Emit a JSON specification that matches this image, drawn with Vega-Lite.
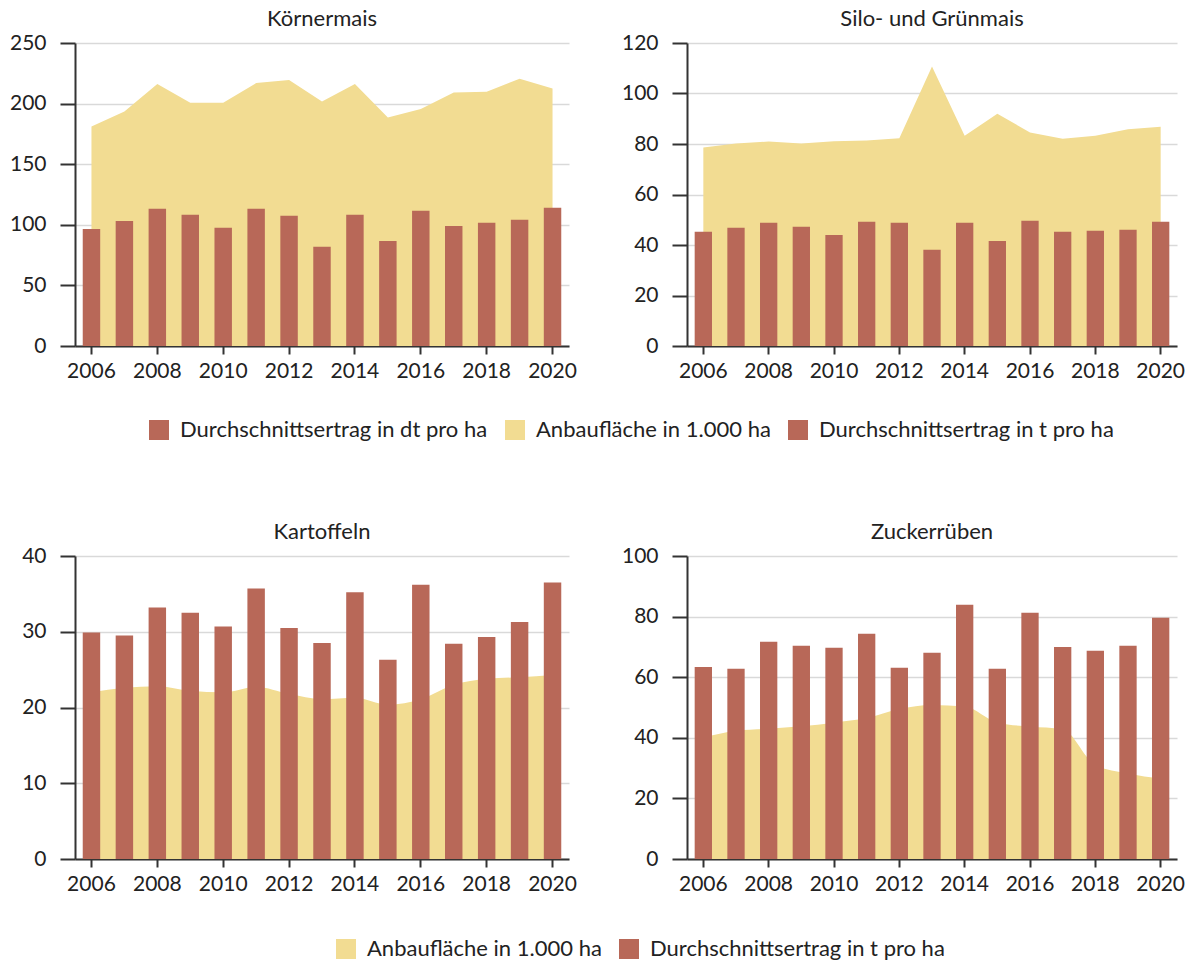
{
  "$schema": "https://vega.github.io/schema/vega-lite/v6.json",
  "background": "white",
  "padding": {"left": 9, "top": 8, "right": 2, "bottom": 0},
  "config": {
    "font": "Lato",
    "view": {"stroke": null},
    "axis": {"labelFont": "Lato", "labelFontSize": 21, "labelColor": "#222222", "domainColor": "#333333", "tickColor": "#333333", "gridColor": "#d9d9d9", "gridWidth": 1.5, "domainWidth": 2, "tickWidth": 2},
    "title": {"font": "Lato", "fontSize": 22, "fontWeight": "normal", "color": "#222222", "offset": 1},
    "legend": {"labelFont": "Lato", "labelFontSize": 22, "labelColor": "#222222", "labelLimit": 400, "symbolType": "square", "symbolSize": 400, "symbolStrokeWidth": 0, "direction": "horizontal", "title": null, "columnPadding": 16, "labelOffset": 10}
  },
  "datasets": {
    "d": [
      {"crop": "Körnermais", "year": 2006, "flaeche": 181.2, "ertrag": 96.6},
      {"crop": "Körnermais", "year": 2007, "flaeche": 193.5, "ertrag": 103.2},
      {"crop": "Körnermais", "year": 2008, "flaeche": 216.1, "ertrag": 113.2},
      {"crop": "Körnermais", "year": 2009, "flaeche": 200.7, "ertrag": 108.2},
      {"crop": "Körnermais", "year": 2010, "flaeche": 200.7, "ertrag": 97.5},
      {"crop": "Körnermais", "year": 2011, "flaeche": 216.9, "ertrag": 113.2},
      {"crop": "Körnermais", "year": 2012, "flaeche": 219.4, "ertrag": 107.4},
      {"crop": "Körnermais", "year": 2013, "flaeche": 201.8, "ertrag": 81.8},
      {"crop": "Körnermais", "year": 2014, "flaeche": 216.1, "ertrag": 108.2},
      {"crop": "Körnermais", "year": 2015, "flaeche": 188.6, "ertrag": 86.7},
      {"crop": "Körnermais", "year": 2016, "flaeche": 195.5, "ertrag": 111.5},
      {"crop": "Körnermais", "year": 2017, "flaeche": 209.2, "ertrag": 99.1},
      {"crop": "Körnermais", "year": 2018, "flaeche": 209.8, "ertrag": 101.6},
      {"crop": "Körnermais", "year": 2019, "flaeche": 220.5, "ertrag": 104.1},
      {"crop": "Körnermais", "year": 2020, "flaeche": 212.5, "ertrag": 114.0},
      {"crop": "Silo", "year": 2006, "flaeche": 78.6, "ertrag": 45.2},
      {"crop": "Silo", "year": 2007, "flaeche": 80.2, "ertrag": 46.8},
      {"crop": "Silo", "year": 2008, "flaeche": 81.0, "ertrag": 48.8},
      {"crop": "Silo", "year": 2009, "flaeche": 80.2, "ertrag": 47.2},
      {"crop": "Silo", "year": 2010, "flaeche": 81.1, "ertrag": 44.0},
      {"crop": "Silo", "year": 2011, "flaeche": 81.4, "ertrag": 49.2},
      {"crop": "Silo", "year": 2012, "flaeche": 82.3, "ertrag": 48.8},
      {"crop": "Silo", "year": 2013, "flaeche": 110.7, "ertrag": 38.1},
      {"crop": "Silo", "year": 2014, "flaeche": 83.3, "ertrag": 48.8},
      {"crop": "Silo", "year": 2015, "flaeche": 92.0, "ertrag": 41.6},
      {"crop": "Silo", "year": 2016, "flaeche": 84.6, "ertrag": 49.6},
      {"crop": "Silo", "year": 2017, "flaeche": 82.1, "ertrag": 45.2},
      {"crop": "Silo", "year": 2018, "flaeche": 83.3, "ertrag": 45.6},
      {"crop": "Silo", "year": 2019, "flaeche": 85.8, "ertrag": 46.0},
      {"crop": "Silo", "year": 2020, "flaeche": 86.8, "ertrag": 49.2},
      {"crop": "Kartoffeln", "year": 2006, "flaeche": 22.0, "ertrag": 29.9},
      {"crop": "Kartoffeln", "year": 2007, "flaeche": 22.6, "ertrag": 29.5},
      {"crop": "Kartoffeln", "year": 2008, "flaeche": 22.8, "ertrag": 33.2},
      {"crop": "Kartoffeln", "year": 2009, "flaeche": 22.2, "ertrag": 32.5},
      {"crop": "Kartoffeln", "year": 2010, "flaeche": 22.0, "ertrag": 30.7},
      {"crop": "Kartoffeln", "year": 2011, "flaeche": 22.7, "ertrag": 35.7},
      {"crop": "Kartoffeln", "year": 2012, "flaeche": 21.8, "ertrag": 30.5},
      {"crop": "Kartoffeln", "year": 2013, "flaeche": 21.1, "ertrag": 28.5},
      {"crop": "Kartoffeln", "year": 2014, "flaeche": 21.3, "ertrag": 35.2},
      {"crop": "Kartoffeln", "year": 2015, "flaeche": 20.4, "ertrag": 26.3},
      {"crop": "Kartoffeln", "year": 2016, "flaeche": 21.1, "ertrag": 36.2},
      {"crop": "Kartoffeln", "year": 2017, "flaeche": 23.0, "ertrag": 28.4},
      {"crop": "Kartoffeln", "year": 2018, "flaeche": 23.8, "ertrag": 29.3},
      {"crop": "Kartoffeln", "year": 2019, "flaeche": 24.0, "ertrag": 31.3},
      {"crop": "Kartoffeln", "year": 2020, "flaeche": 24.3, "ertrag": 36.5},
      {"crop": "Zucker", "year": 2006, "flaeche": 40.1, "ertrag": 63.4},
      {"crop": "Zucker", "year": 2007, "flaeche": 42.3, "ertrag": 62.8},
      {"crop": "Zucker", "year": 2008, "flaeche": 43.0, "ertrag": 71.7},
      {"crop": "Zucker", "year": 2009, "flaeche": 43.8, "ertrag": 70.4},
      {"crop": "Zucker", "year": 2010, "flaeche": 45.0, "ertrag": 69.7},
      {"crop": "Zucker", "year": 2011, "flaeche": 46.5, "ertrag": 74.3},
      {"crop": "Zucker", "year": 2012, "flaeche": 49.5, "ertrag": 63.1},
      {"crop": "Zucker", "year": 2013, "flaeche": 50.8, "ertrag": 68.1},
      {"crop": "Zucker", "year": 2014, "flaeche": 50.3, "ertrag": 83.9},
      {"crop": "Zucker", "year": 2015, "flaeche": 45.0, "ertrag": 62.8},
      {"crop": "Zucker", "year": 2016, "flaeche": 43.7, "ertrag": 81.3},
      {"crop": "Zucker", "year": 2017, "flaeche": 42.8, "ertrag": 70.0},
      {"crop": "Zucker", "year": 2018, "flaeche": 31.0, "ertrag": 68.7},
      {"crop": "Zucker", "year": 2019, "flaeche": 28.2, "ertrag": 70.4},
      {"crop": "Zucker", "year": 2020, "flaeche": 26.5, "ertrag": 79.6}
    ]
  },
  "resolve": {"scale": {"color": "independent"}, "legend": {"color": "independent"}},
  "spacing": 80,
  "vconcat": [
    {
      "spacing": 44,
      "hconcat": [
        {
          "title": "Körnermais",
          "width": 494, "height": 303,
          "data": {"name": "d"},
          "transform": [{"filter": "datum.crop === 'Körnermais'"}],
          "encoding": {
            "x": {"field": "year", "type": "ordinal", "scale": {"paddingInner": 0.47, "paddingOuter": 0.235}, "axis": {"title": null, "values": [2006, 2008, 2010, 2012, 2014, 2016, 2018, 2020], "labelAngle": 0, "tickSize": 8, "labelPadding": 6, "grid": false}}
          },
          "layer": [
            {"mark": {"type": "area", "interpolate": "linear"},
             "encoding": {
               "y": {"field": "flaeche", "type": "quantitative", "scale": {"domain": [0, 250], "nice": false}, "axis": {"title": null, "values": [0, 50, 100, 150, 200, 250], "tickSize": 15, "labelPadding": 14, "grid": true}},
               "color": {"datum": "Anbaufläche in 1.000 ha", "type": "nominal", "scale": {"domain": ["Durchschnittsertrag in dt pro ha", "Anbaufläche in 1.000 ha", "Durchschnittsertrag in t pro ha"], "range": ["#B86858", "#F2DC92", "#B86858"]}, "legend": {"orient": "none", "legendX": 73, "legendY": 376}}
             }},
            {"mark": {"type": "bar"},
             "encoding": {
               "y": {"field": "ertrag", "type": "quantitative"},
               "color": {"datum": "Durchschnittsertrag in dt pro ha", "type": "nominal"}
             }}
          ]
        },
        {
          "title": "Silo- und Grünmais",
          "width": 490, "height": 303,
          "data": {"name": "d"},
          "transform": [{"filter": "datum.crop === 'Silo'"}],
          "encoding": {
            "x": {"field": "year", "type": "ordinal", "scale": {"paddingInner": 0.47, "paddingOuter": 0.235}, "axis": {"title": null, "values": [2006, 2008, 2010, 2012, 2014, 2016, 2018, 2020], "labelAngle": 0, "tickSize": 8, "labelPadding": 6, "grid": false}}
          },
          "layer": [
            {"mark": {"type": "area", "interpolate": "linear"},
             "encoding": {
               "y": {"field": "flaeche", "type": "quantitative", "scale": {"domain": [0, 120], "nice": false}, "axis": {"title": null, "values": [0, 20, 40, 60, 80, 100, 120], "tickSize": 15, "labelPadding": 14, "grid": true}},
               "color": {"datum": "Anbaufläche in 1.000 ha", "type": "nominal"}
             }},
            {"mark": {"type": "bar"},
             "encoding": {
               "y": {"field": "ertrag", "type": "quantitative"},
               "color": {"datum": "Durchschnittsertrag in t pro ha", "type": "nominal"}
             }}
          ]
        }
      ]
    },
    {
      "spacing": 44,
      "hconcat": [
        {
          "title": "Kartoffeln",
          "width": 494, "height": 303,
          "data": {"name": "d"},
          "transform": [{"filter": "datum.crop === 'Kartoffeln'"}],
          "encoding": {
            "x": {"field": "year", "type": "ordinal", "scale": {"paddingInner": 0.47, "paddingOuter": 0.235}, "axis": {"title": null, "values": [2006, 2008, 2010, 2012, 2014, 2016, 2018, 2020], "labelAngle": 0, "tickSize": 8, "labelPadding": 6, "grid": false}}
          },
          "layer": [
            {"mark": {"type": "area", "interpolate": "monotone"},
             "encoding": {
               "y": {"field": "flaeche", "type": "quantitative", "scale": {"domain": [0, 40], "nice": false}, "axis": {"title": null, "values": [0, 10, 20, 30, 40], "tickSize": 15, "labelPadding": 14, "grid": true}},
               "color": {"datum": "Anbaufläche in 1.000 ha", "type": "nominal", "scale": {"domain": ["Anbaufläche in 1.000 ha", "Durchschnittsertrag in t pro ha"], "range": ["#F2DC92", "#B86858"]}, "legend": {"orient": "none", "legendX": 260, "legendY": 382}}
             }},
            {"mark": {"type": "bar"},
             "encoding": {
               "y": {"field": "ertrag", "type": "quantitative"},
               "color": {"datum": "Durchschnittsertrag in t pro ha", "type": "nominal"}
             }}
          ]
        },
        {
          "title": "Zuckerrüben",
          "width": 490, "height": 303,
          "data": {"name": "d"},
          "transform": [{"filter": "datum.crop === 'Zucker'"}],
          "encoding": {
            "x": {"field": "year", "type": "ordinal", "scale": {"paddingInner": 0.47, "paddingOuter": 0.235}, "axis": {"title": null, "values": [2006, 2008, 2010, 2012, 2014, 2016, 2018, 2020], "labelAngle": 0, "tickSize": 8, "labelPadding": 6, "grid": false}}
          },
          "layer": [
            {"mark": {"type": "area", "interpolate": "monotone"},
             "encoding": {
               "y": {"field": "flaeche", "type": "quantitative", "scale": {"domain": [0, 100], "nice": false}, "axis": {"title": null, "values": [0, 20, 40, 60, 80, 100], "tickSize": 15, "labelPadding": 14, "grid": true}},
               "color": {"datum": "Anbaufläche in 1.000 ha", "type": "nominal"}
             }},
            {"mark": {"type": "bar"},
             "encoding": {
               "y": {"field": "ertrag", "type": "quantitative"},
               "color": {"datum": "Durchschnittsertrag in t pro ha", "type": "nominal"}
             }}
          ]
        }
      ]
    }
  ]
}
